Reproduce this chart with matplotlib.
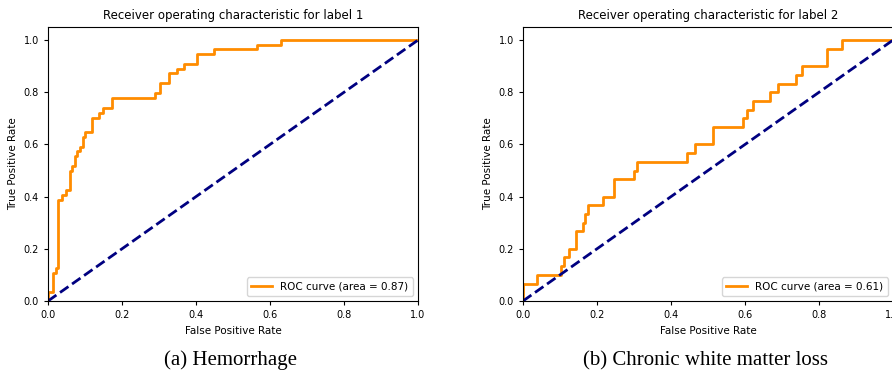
import numpy as np
import matplotlib.pyplot as plt

# ROC curve points
fpr_1 = [0.0, 0.0, 0.014, 0.014, 0.023, 0.023, 0.028, 0.028, 0.038, 0.038, 0.050, 0.050,
         0.060, 0.060, 0.065, 0.065, 0.072, 0.072, 0.079, 0.079, 0.086, 0.086, 0.094, 0.094,
         0.099, 0.099, 0.118, 0.118, 0.137, 0.137, 0.150, 0.150, 0.172, 0.172, 0.289, 0.289,
         0.303, 0.303, 0.326, 0.326, 0.348, 0.348, 0.368, 0.368, 0.404, 0.404, 0.449, 0.449,
         0.564, 0.564, 0.630, 0.630, 1.0]
tpr_1 = [0.0, 0.035, 0.035, 0.107, 0.107, 0.127, 0.127, 0.386, 0.386, 0.405, 0.405, 0.427,
         0.427, 0.499, 0.499, 0.517, 0.517, 0.555, 0.555, 0.575, 0.575, 0.591, 0.591, 0.627,
         0.627, 0.648, 0.648, 0.703, 0.703, 0.721, 0.721, 0.740, 0.740, 0.777, 0.777, 0.798,
         0.798, 0.834, 0.834, 0.872, 0.872, 0.890, 0.890, 0.908, 0.908, 0.945, 0.945, 0.964,
         0.964, 0.981, 0.981, 1.0, 1.0]

fpr_2 = [0.0, 0.0, 0.038, 0.038, 0.103, 0.103, 0.112, 0.112, 0.124, 0.124, 0.142, 0.142,
         0.162, 0.162, 0.168, 0.168, 0.175, 0.175, 0.217, 0.217, 0.246, 0.246, 0.301, 0.301,
         0.308, 0.308, 0.444, 0.444, 0.464, 0.464, 0.513, 0.513, 0.594, 0.594, 0.606, 0.606,
         0.622, 0.622, 0.668, 0.668, 0.688, 0.688, 0.737, 0.737, 0.754, 0.754, 0.821, 0.821,
         0.861, 0.861, 1.0]
tpr_2 = [0.0, 0.067, 0.067, 0.100, 0.100, 0.133, 0.133, 0.167, 0.167, 0.200, 0.200, 0.267,
         0.267, 0.300, 0.300, 0.333, 0.333, 0.367, 0.367, 0.400, 0.400, 0.467, 0.467, 0.500,
         0.500, 0.533, 0.533, 0.567, 0.567, 0.600, 0.600, 0.667, 0.667, 0.700, 0.700, 0.733,
         0.733, 0.767, 0.767, 0.800, 0.800, 0.833, 0.833, 0.867, 0.867, 0.900, 0.900, 0.967,
         0.967, 1.0, 1.0]

areas = [0.87, 0.61]
labels = [1, 2]
captions = ["(a) Hemorrhage", "(b) Chronic white matter loss"]
ticks = [0.0, 0.2, 0.4, 0.6, 0.8, 1.0]

fig = plt.figure(figsize=(8.92, 3.81), dpi=100)
ax_pos = [[0.0538, 0.21, 0.4148, 0.719], [0.5863, 0.21, 0.4148, 0.719]]
curves = [(fpr_1, tpr_1), (fpr_2, tpr_2)]

for i, (fpr, tpr) in enumerate(curves):
    ax = fig.add_axes(ax_pos[i])
    ax.plot(fpr, tpr, color='darkorange', lw=2,
            label='ROC curve (area = %0.2f)' % areas[i])
    ax.plot([0, 1], [0, 1], color='navy', lw=2, linestyle='--')
    ax.set_xlim([0.0, 1.0])
    ax.set_ylim([0.0, 1.05])
    ax.set_xticks(ticks)
    ax.set_yticks(ticks)
    ax.tick_params(labelsize=7, length=3)
    ax.set_xlabel('False Positive Rate', fontsize=7.5)
    ax.set_ylabel('True Positive Rate', fontsize=7.5)
    ax.set_title('Receiver operating characteristic for label %d' % labels[i], fontsize=8.5)
    ax.legend(loc="lower right", fontsize=7.5)
    # sub caption below each panel
    fig.text(ax_pos[i][0] + ax_pos[i][2] / 2 - 0.003, 0.028, captions[i],
             ha='center', va='bottom', fontsize=15, family='Liberation Serif')

plt.savefig("out.png", dpi=100)
